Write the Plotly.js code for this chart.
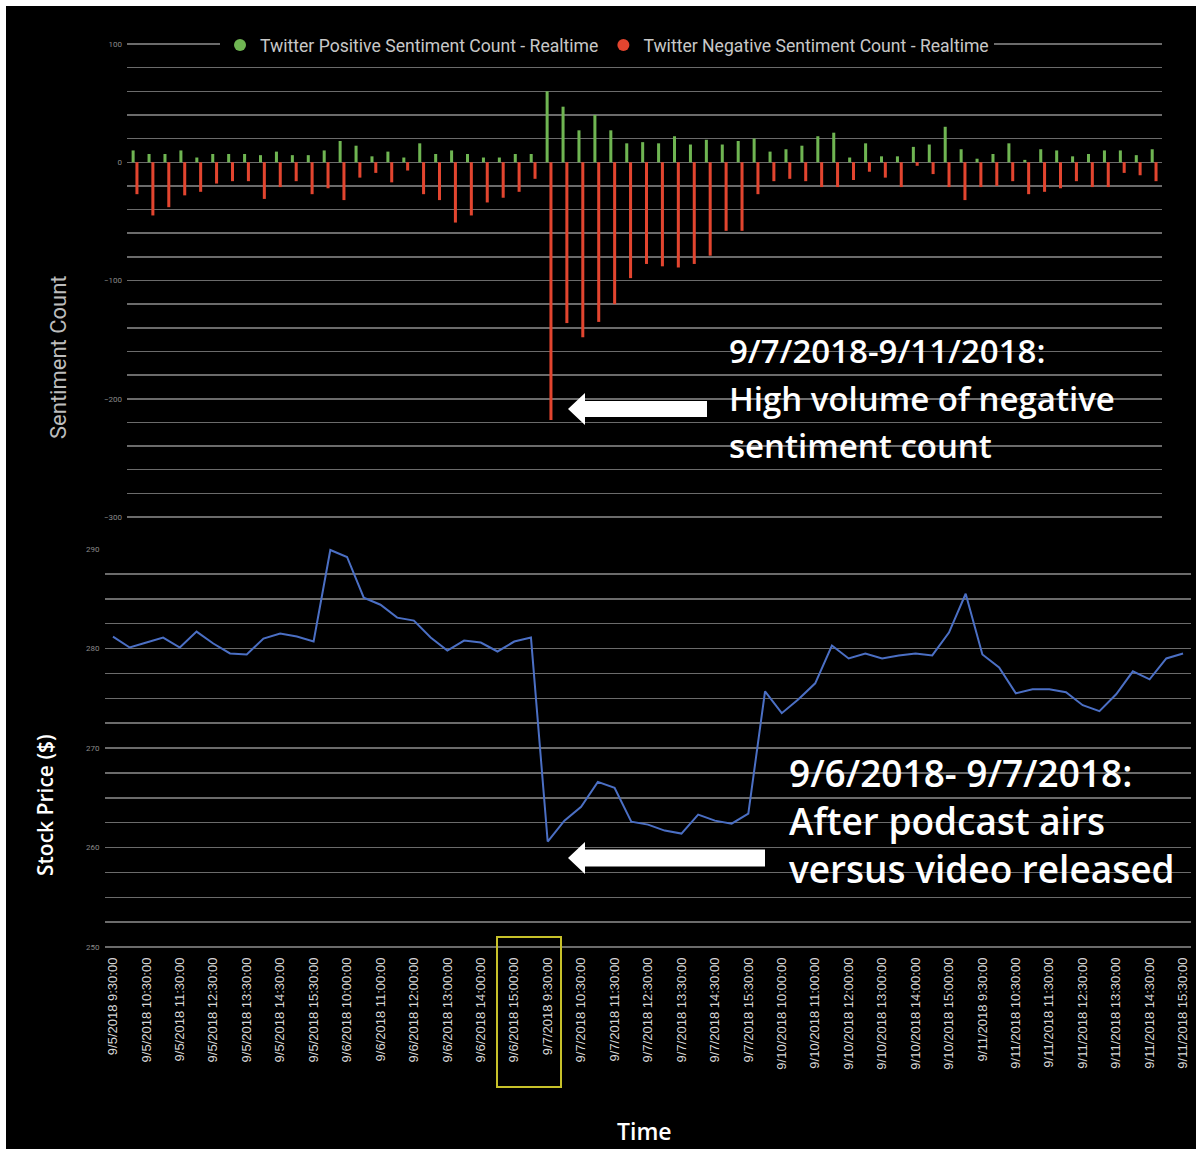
<!DOCTYPE html>
<html>
<head>
<meta charset="utf-8">
<script src="https://cdn.plot.ly/plotly-3.0.1.min.js"></script>
<style>html,body{margin:0;padding:0;background:#000;overflow:hidden;}#chart{width:1196px;height:1149px;}</style>
</head>
<body>
<div id="chart"></div>
<script>
// ---- Data ----
const timeCategories = [
"9/5/2018 9:30:00","9/5/2018 10:00:00","9/5/2018 10:30:00","9/5/2018 11:00:00","9/5/2018 11:30:00","9/5/2018 12:00:00","9/5/2018 12:30:00","9/5/2018 13:00:00","9/5/2018 13:30:00","9/5/2018 14:00:00","9/5/2018 14:30:00","9/5/2018 15:00:00","9/5/2018 15:30:00",
"9/6/2018 9:30:00","9/6/2018 10:00:00","9/6/2018 10:30:00","9/6/2018 11:00:00","9/6/2018 11:30:00","9/6/2018 12:00:00","9/6/2018 12:30:00","9/6/2018 13:00:00","9/6/2018 13:30:00","9/6/2018 14:00:00","9/6/2018 14:30:00","9/6/2018 15:00:00","9/6/2018 15:30:00",
"9/7/2018 9:30:00","9/7/2018 10:00:00","9/7/2018 10:30:00","9/7/2018 11:00:00","9/7/2018 11:30:00","9/7/2018 12:00:00","9/7/2018 12:30:00","9/7/2018 13:00:00","9/7/2018 13:30:00","9/7/2018 14:00:00","9/7/2018 14:30:00","9/7/2018 15:00:00","9/7/2018 15:30:00",
"9/10/2018 9:30:00","9/10/2018 10:00:00","9/10/2018 10:30:00","9/10/2018 11:00:00","9/10/2018 11:30:00","9/10/2018 12:00:00","9/10/2018 12:30:00","9/10/2018 13:00:00","9/10/2018 13:30:00","9/10/2018 14:00:00","9/10/2018 14:30:00","9/10/2018 15:00:00","9/10/2018 15:30:00",
"9/11/2018 9:30:00","9/11/2018 10:00:00","9/11/2018 10:30:00","9/11/2018 11:00:00","9/11/2018 11:30:00","9/11/2018 12:00:00","9/11/2018 12:30:00","9/11/2018 13:00:00","9/11/2018 13:30:00","9/11/2018 14:00:00","9/11/2018 14:30:00","9/11/2018 15:00:00","9/11/2018 15:30:00"
];

const tickLabels = [
"9/5/2018 9:30:00","9/5/2018 10:30:00","9/5/2018 11:30:00","9/5/2018 12:30:00","9/5/2018 13:30:00","9/5/2018 14:30:00","9/5/2018 15:30:00",
"9/6/2018 10:00:00","9/6/2018 11:00:00","9/6/2018 12:00:00","9/6/2018 13:00:00","9/6/2018 14:00:00","9/6/2018 15:00:00",
"9/7/2018 9:30:00","9/7/2018 10:30:00","9/7/2018 11:30:00","9/7/2018 12:30:00","9/7/2018 13:30:00","9/7/2018 14:30:00","9/7/2018 15:30:00",
"9/10/2018 10:00:00","9/10/2018 11:00:00","9/10/2018 12:00:00","9/10/2018 13:00:00","9/10/2018 14:00:00","9/10/2018 15:00:00",
"9/11/2018 9:30:00","9/11/2018 10:30:00","9/11/2018 11:30:00","9/11/2018 12:30:00","9/11/2018 13:30:00","9/11/2018 14:30:00","9/11/2018 15:30:00"
];

const positiveCounts = [
10,7,7,10,4,7,7,7,6,9,6,6,10,
18,14,5,9,4,16,7,10,7,4,4,7,7,
60,47,27,40,27,16,17,16,22,15,19,15,18,
20,9,11,14,22,25,4,16,5,5,13,15,30,
11,3,7,16,2,11,10,5,7,10,10,6,11
];

const negativeCounts = [
-27,-45,-38,-28,-25,-18,-16,-16,-31,-21,-16,-27,-22,
-32,-13,-9,-17,-7,-27,-32,-51,-45,-34,-30,-25,-14,
-218,-136,-148,-135,-120,-98,-86,-88,-89,-86,-79,-58,-58,
-27,-16,-14,-16,-21,-21,-15,-8,-13,-21,-3,-10,-21,
-32,-21,-20,-16,-27,-25,-22,-16,-21,-21,-9,-11,-16
];

const stockPrice = [
281.2,280.1,280.6,281.1,280.1,281.7,280.5,279.5,279.4,281.0,281.5,281.2,280.7,
289.9,289.2,285.1,284.4,283.1,282.8,281.1,279.8,280.8,280.6,279.7,280.7,281.1,
260.6,262.7,264.1,266.6,266.0,262.6,262.3,261.7,261.4,263.3,262.7,262.4,263.4,
275.7,273.5,274.9,276.5,280.3,279.0,279.5,279.0,279.3,279.5,279.3,281.6,285.5,
279.4,278.1,275.5,275.9,275.9,275.6,274.3,273.7,275.4,277.7,276.9,279.0,279.5
];

const seriesNames = ["Twitter Positive Sentiment Count - Realtime", "Twitter Negative Sentiment Count - Realtime"];

// ---- Layout helpers (pixel -> paper) ----
const W = 1196, H = 1149;
const px = x => x / W;
const py = y => 1 - y / H;

const green = "#6fb552";
const red = "#e2452f";
const gridCol = "#6b6b6b";

function arrowPath(tipX, cy, tailX, headLen, headHalf, shaftHalf) {
  const pts = [
    [tipX, cy],
    [tipX + headLen, cy - headHalf],
    [tipX + headLen, cy - shaftHalf],
    [tailX, cy - shaftHalf],
    [tailX, cy + shaftHalf],
    [tipX + headLen, cy + shaftHalf],
    [tipX + headLen, cy + headHalf]
  ];
  return "M " + pts.map(p => px(p[0]).toFixed(5) + "," + py(p[1]).toFixed(5)).join(" L ") + " Z";
}

const traces = [
  {
    type: "bar", x: timeCategories, y: positiveCounts, xaxis: "x", yaxis: "y",
    marker: { color: green }, width: 0.19, offset: -0.21, showlegend: false, name: seriesNames[0]
  },
  {
    type: "bar", x: timeCategories, y: negativeCounts, xaxis: "x", yaxis: "y",
    marker: { color: red }, width: 0.19, offset: 0.03, showlegend: false, name: seriesNames[1]
  },
  {
    type: "scatter", mode: "markers", x: [null], y: [null], xaxis: "x", yaxis: "y",
    marker: { color: green, size: 14, symbol: "circle" }, name: seriesNames[0], showlegend: true
  },
  {
    type: "scatter", mode: "markers", x: [null], y: [null], xaxis: "x", yaxis: "y",
    marker: { color: red, size: 14, symbol: "circle" }, name: seriesNames[1], showlegend: true
  },
  {
    type: "scatter", mode: "lines", x: timeCategories, y: stockPrice, xaxis: "x2", yaxis: "y2",
    line: { color: "#4b6fc4", width: 2 }, showlegend: false, name: "Stock Price"
  }
];

function textLine(txt, x, y, size) {
  return { text: txt, xref: "paper", yref: "paper", x: px(x), y: py(y), xanchor: "left", yanchor: "middle", showarrow: false,
    font: { family: "Open Sans, sans-serif", size: size, color: "#ffffff", weight: 600 } };
}

const layout = {
  width: W, height: H,
  margin: { l: 0, r: 0, t: 0, b: 0 },
  paper_bgcolor: "#000000",
  plot_bgcolor: "rgba(0,0,0,0)",
  barmode: "overlay",
  showlegend: true,
  legend: {
    orientation: "h", x: px(220), xanchor: "left", y: py(45), yanchor: "middle",
    bgcolor: "#000000", font: { family: "Roboto, sans-serif", size: 17.6, color: "#c8c8c8" },
    itemsizing: "constant", traceorder: "normal", tracegroupgap: 0
  },
  xaxis: {
    domain: [px(127), px(1162)], type: "category", categoryorder: "array", categoryarray: timeCategories,
    range: [-0.5, 64.5], showticklabels: false, showgrid: false, zeroline: false, showline: false, ticks: "", fixedrange: true
  },
  yaxis: {
    domain: [py(518), py(43)], range: [-300.85, 100.85], tick0: 0, dtick: 100,
    showgrid: true, gridcolor: gridCol, gridwidth: 1.5,
    zeroline: true, zerolinecolor: gridCol, zerolinewidth: 1.5,
    minor: { dtick: 20, showgrid: true, gridcolor: gridCol, gridwidth: 1.5, ticks: "" },
    tickfont: { family: "Roboto, sans-serif", size: 8, color: "#8a8a8a" }, ticks: "", ticklabelstandoff: 4, fixedrange: true
  },
  xaxis2: {
    domain: [px(104.6), px(1191.4)], type: "category", categoryorder: "array", categoryarray: timeCategories,
    range: [-0.5, 64.5], anchor: "y2",
    tickmode: "array", tickvals: tickLabels, ticktext: tickLabels, tickangle: -90,
    tickfont: { family: "Liberation Sans, Arial, sans-serif", size: 13, color: "#d8d8d8" },
    showgrid: false, zeroline: false, showline: false, ticks: "", ticklabelstandoff: 6, fixedrange: true
  },
  yaxis2: {
    domain: [py(948), py(548)], range: [249.9, 290.1], tick0: 250, dtick: 10, anchor: "x2",
    showgrid: true, gridcolor: gridCol, gridwidth: 1.5, zeroline: false,
    minor: { dtick: 2.5, showgrid: true, gridcolor: gridCol, gridwidth: 1.5, ticks: "" },
    tickfont: { family: "Roboto, sans-serif", size: 8, color: "#8a8a8a" }, ticks: "", ticklabelstandoff: 4, fixedrange: true
  },
  shapes: [
    { type: "rect", xref: "paper", yref: "paper", x0: 0, x1: 1, y0: py(6), y1: 1, fillcolor: "#ffffff", line: { width: 0 }, layer: "above" },
    { type: "rect", xref: "paper", yref: "paper", x0: 0, x1: px(6), y0: 0, y1: 1, fillcolor: "#ffffff", line: { width: 0 }, layer: "above" },
    { type: "path", xref: "paper", yref: "paper", path: arrowPath(568, 409, 707, 17, 16, 8), fillcolor: "#ffffff", line: { width: 0 } },
    { type: "path", xref: "paper", yref: "paper", path: arrowPath(568, 858, 765, 17, 16, 8.5), fillcolor: "#ffffff", line: { width: 0 } },
    { type: "rect", xref: "paper", yref: "paper", x0: px(497), x1: px(561), y0: py(1087), y1: py(937), fillcolor: "rgba(0,0,0,0)", line: { color: "#c7c12a", width: 2 } }
  ],
  annotations: [
    { text: "Sentiment Count", xref: "paper", yref: "paper", x: px(58), y: py(357), xanchor: "center", yanchor: "middle", textangle: -90, showarrow: false,
      font: { family: "Roboto, sans-serif", size: 22, color: "#bdbdbd" } },
    { text: "Stock Price ($)", xref: "paper", yref: "paper", x: px(45), y: py(805), xanchor: "center", yanchor: "middle", textangle: -90, showarrow: false,
      font: { family: "Open Sans, sans-serif", size: 21, color: "#ffffff", weight: 600 } },
    { text: "Time", xref: "paper", yref: "paper", x: px(644), y: py(1131), xanchor: "center", yanchor: "middle", showarrow: false,
      font: { family: "Open Sans, sans-serif", size: 23, color: "#ffffff", weight: 600 } },
    textLine("9/7/2018-9/11/2018:", 727, 350, 33),
    textLine("High volume of negative", 727, 398, 33),
    textLine("sentiment count", 727, 445, 33),
    textLine("9/6/2018- 9/7/2018:", 787, 772, 37),
    textLine("After podcast airs", 787, 820, 37),
    textLine("versus video released", 787, 868, 37)
  ]
};

Plotly.newPlot("chart", traces, layout, { staticPlot: true, displayModeBar: false });
</script>
</body>
</html>
